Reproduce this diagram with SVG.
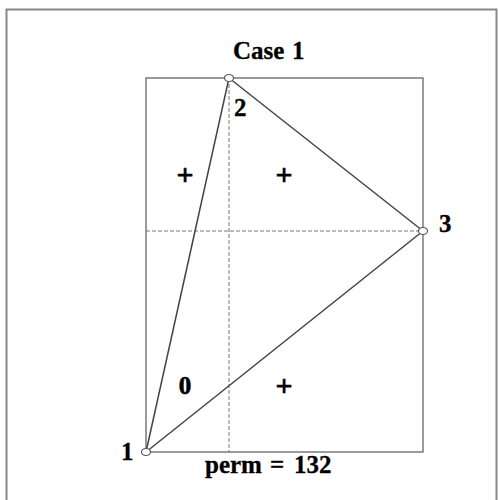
<svg xmlns="http://www.w3.org/2000/svg" width="498" height="500" viewBox="0 0 498 500">
<style>
.t{font-family:"Liberation Serif","Times New Roman",serif;font-weight:bold;font-size:25px;fill:#000;stroke:#000;stroke-width:0.3}
.s{font-family:"Liberation Serif","Times New Roman",serif;font-weight:bold;font-size:25px;fill:#000;text-anchor:middle;stroke:#000;stroke-width:0.6}
.p{font-size:30px}
.edge{stroke:#444;stroke-width:1.5;fill:none}
.dash{stroke:#777;stroke-width:1;stroke-dasharray:4,2;fill:none}
.pt{stroke:#555;stroke-width:1.2;fill:#fff}
</style>
<rect x="6.5" y="9.5" width="490" height="500" fill="#fff" stroke="#888" stroke-width="2"/>
<g id="frame">
<rect x="146" y="78" width="277" height="374" fill="none" stroke="#666" stroke-width="1.3"/>
</g>
<g id="guides">
<line class="dash" x1="229" y1="78" x2="229" y2="452"/>
<line class="dash" x1="146" y1="231" x2="423" y2="231"/>
</g>
<g id="connectors">
<line class="edge" x1="146" y1="452" x2="229" y2="78"/>
<line class="edge" x1="229" y1="78" x2="423" y2="231"/>
<line class="edge" x1="423" y1="231" x2="146" y2="452"/>
</g>
<g id="node1"><ellipse class="pt" cx="146" cy="452" rx="4.5" ry="3.5"/><text class="t" x="121" y="460">1</text></g>
<g id="node2"><ellipse class="pt" cx="229" cy="78" rx="4.5" ry="3.5"/><text class="t" x="234" y="116">2</text></g>
<g id="node3"><ellipse class="pt" cx="423" cy="231" rx="4.5" ry="3.5"/><text class="t" x="439" y="232">3</text></g>
<g id="title"><text class="t" x="233" y="59">Case<tspan x="292">1</tspan></text></g>
<g id="perm"><text class="t" x="205" y="473">perm<tspan x="270">=</tspan><tspan x="294">132</tspan></text></g>
<g id="signs">
<text class="s p" x="185" y="185">+</text>
<text class="s p" x="284" y="185">+</text>
<text class="s" x="185" y="394">0</text>
<text class="s p" x="284" y="396">+</text>
</g>
</svg>
